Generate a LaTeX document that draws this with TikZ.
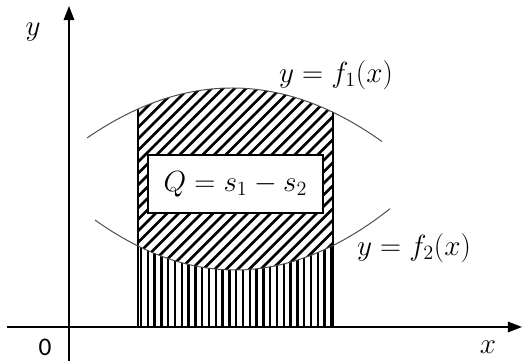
\documentclass[tikz,border=0pt]{standalone}
\usepackage{amsmath}
\usepackage{fontspec}
\usepackage{tikz}
\usetikzlibrary{arrows.meta, calc}
\newfontfamily\zerofont{Carlito}

\begin{document}
\begin{tikzpicture}[x=0.25cm, y=0.25cm,
  declare function={fone(\x)=27.4-0.0238*(\x-23.2)^2; ftwo(\x)=9.2+0.0255*(\x-23.5)^2;},
  axis/.style={line width=1pt, -{Triangle[length=10pt,width=7.5pt]}},
  curve/.style={gray!60!black, line width=0.7pt},
  hatch/.style={line width=1.8pt},
  lbl/.style={font=\fontsize{20}{22}\selectfont}]
\useasboundingbox (0,0) rectangle (52.4,36.2);
% Axes
\coordinate (xs) at (0.7,3.5);
\coordinate (xe) at (52.2,3.5);
\coordinate (ys) at (6.9,0.1);
\coordinate (ye) at (6.9,35.6);
\draw[axis] (xs) -- (xe);
\draw[axis] (ys) -- (ye);
\node[lbl] (ylab) at (3.3,33.0) {$y$};
\node[lbl] (xlab) at (48.8,1.5) {$x$};
\node[font=\zerofont\fontsize{18}{20}\selectfont] (zero) at (4.5,1.5) {0};
% Area between the curves
\begin{scope}
\clip plot[domain=13.8:33.3, samples=40] (\x,{fone(\x)}) -- plot[domain=33.3:13.8, samples=40] (\x,{ftwo(\x)}) -- cycle;
\foreach \s in {-12,-10.85,...,34}
  \draw[hatch] (\s,8) -- ++(22,22);
\end{scope}
% Area under the lower curve
\begin{scope}
\clip (13.8,3.5) -- plot[domain=13.8:33.3, samples=40] (\x,{ftwo(\x)}) -- (33.3,3.5) -- cycle;
\foreach \s in {14.1,14.78,...,33.3}
  \draw[hatch] (\s,3) -- (\s,20);
\end{scope}
% Sides of the region
\draw[line width=0.8pt] (13.8,3.5) -- (13.8,{fone(13.8)});
\draw[line width=0.8pt] (33.3,3.5) -- (33.3,{fone(33.3)});
% Curves
\draw[curve] plot[domain=8.7:38.2, samples=60] (\x,{fone(\x)});
\draw[curve] plot[domain=9.5:39.0, samples=60] (\x,{ftwo(\x)});
\node[lbl] (fonelab) at (33.6,28.7) {$y=f_1(x)$};
\node[lbl] (ftwolab) at (41.4,11.4) {$y=f_2(x)$};
% Box
\node[draw, line width=1pt, fill=white, minimum width=4.375cm, minimum height=1.45cm, lbl] (q) at (23.55,17.8) {$Q=s_1-s_2$};
\end{tikzpicture}
\end{document}
